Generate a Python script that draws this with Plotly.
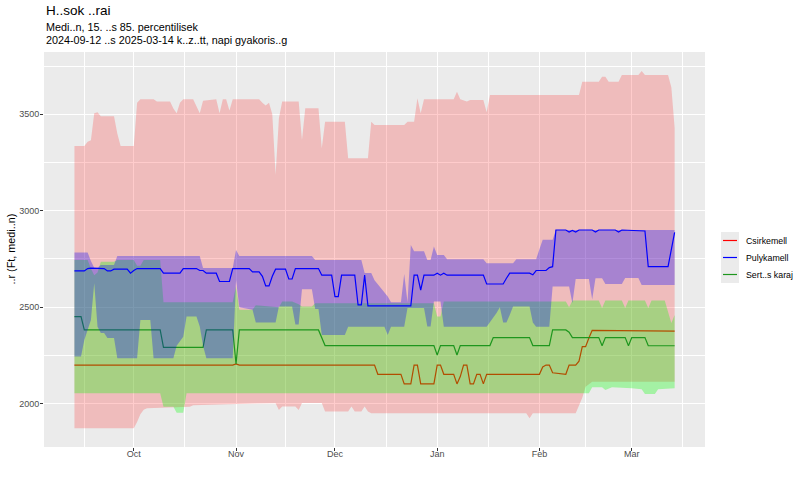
import plotly.graph_objects as go

# ---------------- data ----------------
SERIES = ["Csirkemell", "Pulykamell", "Sert..s karaj"]

# Csirkemell (chicken breast): 85th percentile, 15th percentile, median
CS_HI = [("2024-09-13",3335),("2024-09-16",3335),("2024-09-17",3358),("2024-09-18",3365),("2024-09-19",3505),
         ("2024-09-20",3510),("2024-09-21",3490),("2024-09-25",3490),("2024-09-26",3400),("2024-09-27",3336),
         ("2024-10-01",3336),("2024-10-02",3560),("2024-10-03",3578),("2024-10-07",3578),("2024-10-08",3566),
         ("2024-10-12",3566),("2024-10-13",3530),("2024-10-14",3506),("2024-10-15",3560),("2024-10-16",3578),
         ("2024-10-19",3578),("2024-10-20",3540),("2024-10-21",3506),("2024-10-22",3570),("2024-10-26",3578),
         ("2024-10-27",3506),("2024-10-28",3578),("2024-10-29",3578),("2024-10-30",3520),("2024-10-31",3578),
         ("2024-11-08",3578),("2024-11-09",3560),("2024-11-10",3545),("2024-11-11",3560),("2024-11-12",3500),
         ("2024-11-13",3186),("2024-11-14",3480),("2024-11-15",3566),("2024-11-20",3566),("2024-11-21",3367),
         ("2024-11-22",3531),("2024-11-26",3531),("2024-11-27",3324),("2024-11-28",3462),("2024-12-04",3462),
         ("2024-12-05",3272),("2024-12-11",3272),("2024-12-12",3462),("2024-12-13",3445),("2024-12-22",3445),
         ("2024-12-23",3462),("2024-12-25",3462),("2024-12-26",3583),("2024-12-27",3506),("2024-12-28",3578),
         ("2025-01-06",3578),("2025-01-07",3617),("2025-01-08",3578),("2025-01-10",3566),("2025-01-11",3574),
         ("2025-01-15",3574),("2025-01-16",3510),("2025-01-17",3600),("2025-02-13",3600),("2025-02-14",3669),
         ("2025-02-19",3669),("2025-02-20",3695),("2025-02-21",3695),("2025-02-22",3669),("2025-02-25",3669),
         ("2025-02-26",3704),("2025-03-03",3704),("2025-03-04",3725),("2025-03-05",3704),("2025-03-12",3704),
         ("2025-03-13",3640),("2025-03-14",3430)]
CS_LO = [("2024-09-13",1872),("2024-10-01",1872),("2024-10-02",1905),("2024-10-03",1945),("2024-10-04",1968),
         ("2024-10-05",1976),("2024-10-18",1984),("2024-10-19",1992),("2024-11-07",2000),("2024-11-13",2002),
         ("2024-11-14",1967),("2024-11-15",1985),("2024-11-19",1985),("2024-11-20",1967),("2024-11-21",2003),
         ("2024-11-27",2003),("2024-11-28",1959),("2024-12-05",1959),("2024-12-06",1985),("2024-12-07",1959),
         ("2024-12-09",1959),("2024-12-10",1985),("2024-12-11",1959),("2024-12-12",1950),("2025-01-28",1950),
         ("2025-01-29",1924),("2025-01-30",1950),("2025-02-12",1950),("2025-02-13",1985),("2025-02-14",2030),
         ("2025-02-15",2088),("2025-02-16",2100),("2025-02-17",2113),("2025-03-14",2113)]
CS_MED = [("2024-09-13",2200),("2024-10-31",2200),("2024-11-01",2206),("2024-11-02",2200),("2024-12-13",2200),
          ("2024-12-14",2152),("2024-12-21",2152),("2024-12-22",2102),("2024-12-24",2102),("2024-12-25",2200),
          ("2024-12-26",2200),("2024-12-27",2102),("2024-12-31",2102),("2025-01-01",2200),("2025-01-02",2200),
          ("2025-01-03",2152),("2025-01-06",2152),("2025-01-07",2102),("2025-01-08",2140),("2025-01-09",2200),
          ("2025-01-10",2200),("2025-01-11",2102),("2025-01-12",2102),("2025-01-13",2152),("2025-01-14",2152),
          ("2025-01-15",2102),("2025-01-16",2152),("2025-02-01",2152),("2025-02-02",2190),("2025-02-03",2200),
          ("2025-02-04",2200),("2025-02-05",2160),("2025-02-09",2152),("2025-02-10",2200),("2025-02-12",2200),
          ("2025-02-13",2220),("2025-02-14",2295),("2025-02-15",2295),("2025-02-16",2340),("2025-02-17",2380),
          ("2025-03-14",2376)]

# Pulykamell (turkey breast)
PK_HI = [("2024-09-13",2783),("2024-09-17",2783),("2024-09-18",2740),("2024-09-19",2705),("2024-09-20",2705),
         ("2024-09-21",2719),("2024-09-25",2719),("2024-09-26",2765),("2024-10-21",2765),("2024-10-22",2703),
         ("2024-10-31",2703),("2024-11-01",2797),("2024-11-02",2765),("2024-11-24",2765),("2024-11-25",2745),
         ("2024-12-09",2745),("2024-12-10",2677),("2024-12-12",2677),("2024-12-13",2640),("2024-12-15",2600),
         ("2024-12-17",2555),("2024-12-18",2525),("2024-12-21",2525),("2024-12-22",2672),("2024-12-23",2525),
         ("2024-12-24",2822),("2024-12-25",2790),("2024-12-28",2790),("2024-12-29",2745),("2024-12-30",2745),
         ("2024-12-31",2815),("2025-01-01",2770),("2025-01-03",2770),("2025-01-04",2748),("2025-01-15",2748),
         ("2025-01-16",2728),("2025-01-24",2728),("2025-01-25",2748),("2025-01-31",2748),("2025-02-01",2800),
         ("2025-02-02",2849),("2025-02-05",2849),("2025-02-06",2900),("2025-03-14",2900)]
PK_LO = [("2024-09-13",2244),("2024-09-15",2244),("2024-09-16",2330),("2024-09-18",2434),("2024-09-19",2624),
         ("2024-09-20",2399),("2024-09-21",2366),("2024-09-22",2366),("2024-09-23",2340),("2024-09-25",2340),
         ("2024-09-26",2235),("2024-10-02",2235),("2024-10-03",2434),("2024-10-06",2434),("2024-10-07",2235),
         ("2024-10-13",2235),("2024-10-14",2300),("2024-10-16",2347),("2024-10-17",2451),("2024-10-20",2451),
         ("2024-10-21",2400),("2024-10-22",2300),("2024-10-23",2235),("2024-10-31",2235),("2024-11-01",2640),
         ("2024-11-02",2500),("2024-11-06",2486),("2024-11-07",2420),("2024-11-13",2420),("2024-11-14",2503),
         ("2024-11-18",2503),("2024-11-19",2410),("2024-11-20",2410),("2024-11-21",2593),("2024-11-24",2593),
         ("2024-11-25",2490),("2024-11-26",2490),("2024-11-27",2356),("2024-12-04",2356),("2024-12-05",2399),
         ("2024-12-16",2399),("2024-12-17",2356),("2024-12-18",2399),("2024-12-22",2399),("2024-12-23",2496),
         ("2024-12-28",2496),("2024-12-29",2400),("2024-12-30",2400),("2024-12-31",2530),("2025-01-02",2530),
         ("2025-01-03",2399),("2025-01-16",2399),("2025-01-17",2420),("2025-01-19",2470),("2025-01-20",2500),
         ("2025-01-21",2420),("2025-01-22",2420),("2025-01-23",2460),("2025-01-24",2503),("2025-01-29",2503),
         ("2025-01-30",2420),("2025-01-31",2399),("2025-02-04",2399),("2025-02-05",2607),("2025-02-10",2607),
         ("2025-02-11",2520),("2025-02-12",2646),("2025-02-16",2646),("2025-02-17",2540),("2025-02-18",2650),
         ("2025-02-20",2650),("2025-02-21",2620),("2025-02-26",2620),("2025-02-27",2651),("2025-03-03",2651),
         ("2025-03-04",2615),("2025-03-14",2615)]
PK_MED = [("2024-09-13",2688),("2024-09-16",2688),("2024-09-17",2700),("2024-09-18",2702),("2024-09-22",2700),
          ("2024-09-23",2688),("2024-09-24",2688),("2024-09-25",2697),("2024-09-29",2697),("2024-09-30",2676),
          ("2024-10-01",2690),("2024-10-02",2700),("2024-10-09",2700),("2024-10-10",2676),("2024-10-15",2676),
          ("2024-10-16",2700),("2024-10-20",2700),("2024-10-21",2690),("2024-10-22",2690),("2024-10-23",2676),
          ("2024-10-26",2676),("2024-10-27",2633),("2024-10-30",2633),("2024-10-31",2700),("2024-11-05",2700),
          ("2024-11-06",2683),("2024-11-08",2683),("2024-11-09",2660),("2024-11-10",2610),("2024-11-11",2610),
          ("2024-11-12",2660),("2024-11-13",2697),("2024-11-16",2697),("2024-11-17",2646),("2024-11-18",2646),
          ("2024-11-19",2700),("2024-11-26",2700),("2024-11-27",2666),("2024-11-30",2666),("2024-12-01",2555),
          ("2024-12-02",2555),("2024-12-03",2666),("2024-12-07",2666),("2024-12-08",2512),("2024-12-09",2512),
          ("2024-12-10",2666),("2024-12-11",2507),("2024-12-24",2507),("2024-12-25",2666),("2024-12-26",2666),
          ("2024-12-27",2589),("2024-12-28",2666),("2024-12-31",2666),("2025-01-01",2676),("2025-01-02",2666),
          ("2025-01-03",2676),("2025-01-04",2666),("2025-01-15",2666),("2025-01-16",2620),("2025-01-21",2620),
          ("2025-01-22",2650),("2025-01-23",2676),("2025-01-29",2676),("2025-01-30",2668),("2025-01-31",2690),
          ("2025-02-03",2690),("2025-02-04",2705),("2025-02-05",2710),("2025-02-06",2900),("2025-02-09",2900),
          ("2025-02-10",2890),("2025-02-11",2898),("2025-02-12",2890),("2025-02-13",2900),("2025-02-17",2900),
          ("2025-02-18",2890),("2025-02-19",2900),("2025-02-24",2900),("2025-02-25",2890),("2025-02-26",2900),
          ("2025-03-05",2895),("2025-03-06",2710),("2025-03-12",2710),("2025-03-13",2800),("2025-03-14",2888)]

# Sertes karaj (pork loin)
SK_HI = [("2024-09-13",2745),("2024-09-17",2745),("2024-09-18",2700),("2024-09-19",2665),("2024-09-20",2680),
         ("2024-09-21",2736),("2024-09-25",2736),("2024-09-26",2745),("2024-10-01",2745),("2024-10-02",2715),
         ("2024-10-03",2715),("2024-10-04",2745),("2024-10-09",2745),("2024-10-10",2525),("2024-10-31",2525),
         ("2024-11-01",2610),("2024-11-02",2486),("2024-11-06",2486),("2024-11-07",2510),("2024-11-14",2500),
         ("2024-11-15",2529),("2024-11-18",2529),("2024-11-20",2515),("2024-11-21",2503),("2024-11-24",2503),
         ("2024-11-25",2520),("2024-12-31",2520),("2025-01-01",2451),("2025-01-02",2451),("2025-01-03",2529),
         ("2025-02-09",2529),("2025-02-10",2500),("2025-02-11",2535),("2025-02-19",2535),("2025-02-20",2496),
         ("2025-02-21",2535),("2025-02-26",2535),("2025-02-27",2496),("2025-02-28",2535),("2025-03-05",2535),
         ("2025-03-06",2496),("2025-03-07",2535),("2025-03-11",2535),("2025-03-12",2480),("2025-03-13",2418),
         ("2025-03-14",2460)]
SK_LO = [("2024-09-13",2054),("2024-10-09",2054),("2024-10-10",1984),("2024-10-13",1984),("2024-10-14",1953),
         ("2024-10-16",1953),("2024-10-17",2054),("2025-02-16",2054),("2025-02-17",2085),("2025-02-20",2085),
         ("2025-02-21",2070),("2025-02-23",2085),("2025-03-01",2080),("2025-03-04",2075),("2025-03-05",2050),
         ("2025-03-08",2050),("2025-03-09",2075),("2025-03-14",2080)]
SK_MED = [("2024-09-13",2451),("2024-09-15",2451),("2024-09-16",2382),("2024-10-09",2382),("2024-10-10",2292),
          ("2024-10-22",2292),("2024-10-23",2382),("2024-10-31",2382),("2024-11-01",2206),("2024-11-02",2382),
          ("2024-11-26",2382),("2024-11-27",2342),("2024-11-28",2301),("2024-12-31",2301),("2025-01-01",2252),
          ("2025-01-02",2301),("2025-01-06",2301),("2025-01-07",2252),("2025-01-08",2301),("2025-01-17",2301),
          ("2025-01-18",2342),("2025-01-29",2342),("2025-01-30",2301),("2025-02-04",2301),("2025-02-05",2382),
          ("2025-02-09",2382),("2025-02-10",2370),("2025-02-11",2342),("2025-02-19",2342),("2025-02-20",2300),
          ("2025-02-21",2342),("2025-02-27",2342),("2025-02-28",2300),("2025-03-01",2342),("2025-03-05",2342),
          ("2025-03-06",2300),("2025-03-14",2300)]

X_TICKS = ["2024-10-01", "2024-11-01", "2024-12-01", "2025-01-01", "2025-02-01", "2025-03-01"]
X_MINOR = ["2024-09-16", "2024-10-16 12:00", "2024-11-16", "2024-12-16 12:00",
           "2025-01-16 12:00", "2025-02-15", "2025-03-16 12:00"]
Y_TICKS = [2000, 2500, 3000, 3500]
Y_MINOR = [2250, 2750, 3250, 3750]

TITLE = "H..sok ..rai"
SUB1 = "Medi..n, 15. ..s 85. percentilisek"
SUB2 = "2024-09-12 ..s 2025-03-14 k..z..tt, napi gyakoris..g"
Y_TITLE = "..r (Ft, medi..n)"

# ---------------- styling ----------------
FONT = "Liberation Sans, Arial, Helvetica, sans-serif"
LINE_COL = {"Csirkemell": "#FF0000", "Pulykamell": "#0000FF", "Sert..s karaj": "#1E961E"}
FILL_COL = {"Csirkemell": "rgba(255,0,0,0.2)", "Pulykamell": "rgba(0,0,255,0.3)",
            "Sert..s karaj": "rgba(0,255,0,0.3)"}


def unzip(pairs):
    return [p[0] for p in pairs], [p[1] for p in pairs]


fig = go.Figure()

order = [("Csirkemell", CS_HI, CS_LO, CS_MED),
         ("Sert..s karaj", SK_HI, SK_LO, SK_MED),
         ("Pulykamell", PK_HI, PK_LO, PK_MED)]

for name, hi, lo, med in order:
    hx, hy = unzip(hi)
    lx, ly = unzip(lo)
    fig.add_trace(go.Scatter(x=hx + lx[::-1], y=hy + ly[::-1], fill="toself",
                             fillcolor=FILL_COL[name], line=dict(width=0), mode="lines",
                             hoverinfo="skip", showlegend=False))
    mx, my = unzip(med)
    fig.add_trace(go.Scatter(x=mx, y=my, mode="lines", name=name,
                             line=dict(color=LINE_COL[name], width=1.2), showlegend=False))

# panel geometry in pixels (for placing text outside the panel)
L, R, T, B = 44, 705, 52, 447
W, H = R - L, B - T


def px_x(x):
    return (x - L) / W


def px_y(y):
    return (B - y) / H


annotations = [
    dict(text=TITLE, x=0, y=px_y(10), xref="paper", yref="paper", xanchor="left", yanchor="middle",
         showarrow=False, font=dict(family=FONT, size=13.5, color="black")),
    dict(text=SUB1, x=0, y=px_y(27.5), xref="paper", yref="paper", xanchor="left", yanchor="middle",
         showarrow=False, font=dict(family=FONT, size=10.8, color="black")),
    dict(text=SUB2, x=0, y=px_y(39.5), xref="paper", yref="paper", xanchor="left", yanchor="middle",
         showarrow=False, font=dict(family=FONT, size=10.8, color="black")),
    dict(text=Y_TITLE, x=px_x(10), y=0.5, xref="paper", yref="paper", xanchor="center", yanchor="middle",
         textangle=-90, showarrow=False, font=dict(family=FONT, size=10.8, color="black")),
]

# custom legend (ggplot style keys)
shapes = [dict(type="rect", xref="paper", yref="paper", x0=px_x(721), x1=px_x(739),
               y0=px_y(283), y1=px_y(232), fillcolor="#EBEBEB", line=dict(width=0), layer="below")]
legend_names = ["Csirkemell", "Pulykamell", "Sert..s karaj"]
for i, name in enumerate(legend_names):
    yc = 240.5 + 17 * i
    shapes.append(dict(type="line", xref="paper", yref="paper", x0=px_x(723), x1=px_x(737),
                       y0=px_y(yc), y1=px_y(yc), line=dict(color=LINE_COL[name], width=1.2)))
    annotations.append(dict(text=name, x=px_x(744), y=px_y(yc), xref="paper", yref="paper",
                            xanchor="left", yanchor="middle", showarrow=False,
                            font=dict(family=FONT, size=8.8, color="black")))

fig.update_layout(
    width=800, height=480,
    margin=dict(l=L, r=800 - R, t=T, b=480 - B, pad=0),
    paper_bgcolor="white", plot_bgcolor="#EBEBEB",
    font=dict(family=FONT, size=9, color="#4D4D4D"),
    showlegend=False,
    annotations=annotations,
    shapes=shapes,
)
fig.update_xaxes(
    type="date", range=["2024-09-03 18:30", "2025-03-23 05:00"],
    tickmode="array", tickvals=X_TICKS, tickformat="%b",
    ticks="outside", ticklen=3, tickwidth=1, tickcolor="#333333", ticklabelstandoff=-5,
    tickfont=dict(family=FONT, size=9, color="#4D4D4D"),
    showgrid=True, gridcolor="white", gridwidth=1.1, zeroline=False, showline=False,
    minor=dict(tickmode="array", tickvals=X_MINOR, showgrid=True, gridcolor="white",
               gridwidth=0.5, ticks=""),
)
fig.update_yaxes(
    range=[1775, 3823], tickmode="array", tickvals=Y_TICKS,
    ticks="outside", ticklen=3, tickwidth=1, tickcolor="#333333", ticklabelstandoff=-1,
    tickfont=dict(family=FONT, size=9, color="#4D4D4D"),
    showgrid=True, gridcolor="white", gridwidth=1.1, zeroline=False, showline=False,
    minor=dict(tickmode="array", tickvals=Y_MINOR, showgrid=True, gridcolor="white",
               gridwidth=0.5, ticks=""),
)

fig.write_html("out.html", config={"displayModeBar": False},
               post_script="document.body.style.margin='0';document.body.style.overflow='hidden';")
